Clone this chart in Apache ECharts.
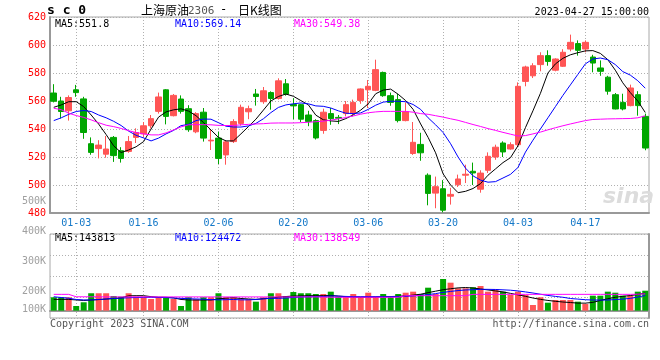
<!DOCTYPE html>
<html><head><meta charset="utf-8">
<script src="https://cdn.jsdelivr.net/npm/echarts@6/dist/echarts.min.js"></script>
<style>html,body{margin:0;padding:0;background:#fff}#c{width:660px;height:360px}</style>
</head><body><div id="c"></div>
<script>
// ---- data ----
const dates = ['12-28','12-29','12-30','01-03','01-04','01-05','01-06','01-09','01-10','01-11','01-12','01-13','01-16','01-17','01-18','01-19','01-20','01-30','01-31','02-01','02-02','02-03','02-06','02-07','02-08','02-09','02-10','02-13','02-14','02-15','02-16','02-17','02-20','02-21','02-22','02-23','02-24','02-27','02-28','03-01','03-02','03-03','03-06','03-07','03-08','03-09','03-10','03-13','03-14','03-15','03-16','03-17','03-20','03-21','03-22','03-23','03-24','03-27','03-28','03-29','03-30','03-31','04-03','04-04','04-06','04-07','04-10','04-11','04-12','04-13','04-14','04-17','04-18','04-19','04-20','04-21','04-24','04-25','04-26','04-27'];
const openP  = [565.7,560,553,568,561.5,529.5,526,522,534,524.5,524,534,536.5,542.3,552.6,568,549.5,561.4,554.5,538,552,531.5,533.5,521.5,531,544,552.3,565,559.5,566,561.8,572.3,557.5,557.4,550,546,539,551,548.3,551,551,560.4,568,567.6,580.4,563.8,561,546,522.5,529,507,494.2,497.3,492,500.2,507,509.8,497,510.5,520,530,525.7,528.8,574,578,586,592.4,582,584.8,597.1,601,597.1,591.4,583.6,577,564.5,559,556.7,564.5,549];
const closeP = [559.8,552.5,562.5,566,537.5,523.3,528.5,525.7,521,519,531,537.5,542.3,547.4,562.9,549,564,552.6,539.5,551,533.5,532,519,530.8,545.3,555.5,554.5,563.2,567.3,561.8,574.4,564.9,556.5,547,545.4,533.6,552,547.4,547.7,557.4,559,568.6,570.5,582.4,563.8,559,546,552.3,530.5,523,494,498.8,482,493.3,504.3,507.7,508.6,508.5,520.5,527,523.6,528.8,570.5,584.3,585.2,592.4,588.3,590,594.8,601.9,596.2,601.9,587.1,581.2,567,554.3,554.3,569.3,556.7,526.4];
const lowP   = [559,547.5,546,563,533,521.6,519,519.5,516.5,516,523,530,534.3,540.4,551,543.3,549,551,538,537,531,525,515,514.5,530,542.4,547,556.7,558,553.8,561,563.8,547,545,542,532.5,536.6,543,543.5,549,549,558,555,567,563,556.6,544.7,545.5,521.5,517.3,485.5,483.4,480.5,486,498.6,501.4,500,494.5,508.6,518,520,525.2,527.6,570.5,576.4,581.2,585.2,581.2,584.3,595.5,592.4,594.8,580.5,578,564.5,554,553.3,556.2,549.5,524.8];
const highP  = [572,563,564,571.5,563,534,532,535,535,527,535,540.5,545,550,566,568.5,565,564,557,552,555,539.5,538,532,547,557.4,556.7,568.6,570,566.9,576.2,575.7,562,558,553,547,554.5,555,550,560,561,569,575,589.5,581,566,565,559,545,537.3,508.3,506,503.5,498,507.4,514.5,516,510.5,523.3,528.8,531.2,530.5,573.3,585.2,587,594.8,596.2,590.5,597,607.4,603.3,603.3,593,589,578,565.7,565.2,571.7,567,551];
const ma5  = [555.5,557.2,559.5,559.5,556,550,543.5,536,528,523.2,525,527.3,531,540,548.5,552.2,553.7,554.4,552.8,549.5,544.6,539.3,534,531.5,531.5,536.5,541.7,547,553.5,560,563.2,565,563.4,560.3,557.3,549.9,546.6,545.8,545.4,547.4,550.1,553.5,558,565.2,567.8,568.5,564.8,560.3,554,543.6,534,523,508,500,494.5,495.5,497.5,501,507,511.5,516,519.5,528,541,553,565.5,580,586.5,590.5,593,594.5,595.8,596,594,589.5,582,573,566,560,551.8];
const ma10 = [546,548,550.5,552.5,553.2,552.5,550,548,545.5,542.5,538.5,535.5,533.6,531.5,533.5,536.5,539,542.4,543.3,546,547.1,547,544.5,542,541.4,541.4,542.2,544,547.3,551.7,555.4,557.2,558,558.6,558,556.5,556.2,555,553,551.3,551,551.5,554,557,559.2,559.8,559.8,559.5,557.5,554,548,543,537.5,529.5,520,512,506.5,503.5,502,502.4,505,507.6,512.5,523.5,532,540,548,556,564,571.5,579,586.5,590,590.7,589.5,586,581,578.5,574.5,569.14];
const ma30 = [554.8,553.8,551.3,549.6,548.3,546.5,544.5,542.7,541.7,540.4,538.8,537.5,536.5,535.8,535.8,537.2,539.3,541.5,543,543.1,543.1,543,542.6,542.5,542.5,543,543.3,543.6,543.8,544.2,544.3,544.3,544.3,544.5,544.8,545.2,545.6,546.3,547.2,548.2,549.3,550.6,551.6,552.2,552.6,552.6,552.6,552.6,552,551,550.5,549.5,548.5,547.3,546.2,544.7,543.2,541.8,540.3,539,537.6,536.3,535,535.3,536.5,537.8,539.4,540.9,542.3,543.6,544.8,546,546.8,547,547.2,547.3,547.4,547.5,548,549.38];
const volume = [110000,110000,110000,38500,69000,143000,143000,143000,120500,115000,143000,115000,115000,96000,110000,110000,96000,38500,110000,93500,110000,110000,143000,110000,110000,93500,93500,74000,110000,143000,143000,120500,153000,143000,143000,137000,137000,156000,115000,115000,137000,115000,147600,115000,137000,115000,137000,147600,156000,137000,188600,137000,260000,229600,183700,183700,192000,202500,156000,175500,156000,128700,156000,128700,46700,110000,65600,87700,87700,87700,74000,55000,123000,123000,156000,147600,123000,123000,156000,164000];
const volMa5  = [93000,93000,93000,88000,84000,87500,91000,95000,100000,105000,122000,123000,123000,115000,110000,110000,105000,92000,88000,87500,87500,87500,97000,103000,106000,100000,96000,93000,98000,103000,111000,116000,120000,121000,123000,123000,123000,125000,120000,115000,110000,110000,110000,112000,114000,116000,118000,121000,128000,135000,148000,160000,172000,180000,187000,190000,186000,178000,170000,162000,154000,142000,130000,118000,104000,93000,84000,77000,71000,67000,62000,62000,68000,84000,98000,110000,118000,124000,133000,143813];
const volMa10 = [114000,108000,102000,92000,88000,88000,92000,96000,100000,103000,106000,108000,109000,110000,109000,108000,104000,101000,98000,96000,94000,91000,89000,90000,92000,89000,89000,92000,97000,101000,101600,104000,109000,112000,114800,114800,116000,121000,119000,117000,115000,115000,115000,115000,115000,115000,116000,118000,121000,126000,132000,140000,150000,158000,165000,170000,172000,175000,175000,174000,171000,168000,162000,154000,145000,135000,125000,117000,110000,100000,95000,90000,87500,87500,87500,91000,95000,101000,112000,124472];
const volMa30 = [134000,134000,134000,114000,114000,114000,114000,113000,113000,113000,113000,113000,113000,113000,113000,113000,113000,113000,113000,113000,113000,113000,113000,113000,113000,113000,113000,113000,113000,113000,113000,113000,113000,113000,113000,113000,112000,110000,110000,110000,110000,110000,110000,110000,110000,110000,110000,123000,123000,123000,123000,123000,123000,123000,123000,123000,134000,134000,134000,134000,134000,134000,134000,134000,134000,134000,134000,134000,134000,134000,134000,134000,134000,134000,134000,134000,134000,134000,135000,138549];
const dateTicks = ['01-03','01-16','02-06','02-20','03-06','03-20','04-03','04-17'];
const priceMin = 480, priceMax = 620, priceStep = 20;
const volTickLabels = [100000, 500000, 100000]; // min, max, step of the printed volume scale

// ---- chart ----
const mono = 'DejaVu Sans Mono';
const UP = '#ff5555', DOWN = '#00a600';
const tickIdx = dateTicks.map(t => dates.indexOf(t));
const isTick = (i) => tickIdx.indexOf(i) >= 0;
const kData = dates.map((d, i) => [openP[i], closeP[i], lowP[i], highP[i]]);
const volData = volume.map((v, i) => ({value: v, itemStyle: {color: closeP[i] >= openP[i] ? UP : DOWN}}));
const dotted = {color: '#b0b0b0', type: [1, 2], width: 1};
const last = a => a[a.length - 1];

const chart = echarts.init(document.getElementById('c'), null, {width: 660, height: 360});
const txt = (x, y, text, color, extra) => Object.assign({
  type: 'text', x: x, y: y,
  style: Object.assign({text: text, fill: color, font: '10px "' + mono + '"', textVerticalAlign: 'middle'}, extra || {})
});
chart.setOption({
  animation: false,
  backgroundColor: '#fff',
  grid: [
    {left: 50, right: 11, top: 17, height: 196, show: true, borderColor: '#a8a8a8', borderWidth: 1},
    {left: 50, right: 11, top: 234, height: 84, show: true, borderColor: '#a8a8a8', borderWidth: 1},
    {left: 50, right: 11, top: 201, height: 120, show: false}
  ],
  xAxis: [
    {type: 'category', gridIndex: 0, data: dates, boundaryGap: true,
     axisLine: {show: true, lineStyle: {color: '#999', width: 2}}, axisTick: {show: false},
     axisLabel: {interval: (i) => isTick(i), color: '#1478c8', fontFamily: mono, fontSize: 10, margin: 5},
     splitLine: {show: true, interval: (i) => isTick(i), alignWithLabel: true, lineStyle: dotted}},
    {type: 'category', gridIndex: 1, data: dates, boundaryGap: true,
     axisLine: {show: true, lineStyle: {color: '#999', width: 2}}, axisTick: {show: false}, axisLabel: {show: false},
     splitLine: {show: true, interval: (i) => isTick(i), alignWithLabel: true, lineStyle: dotted}},
    {type: 'category', gridIndex: 2, data: dates, show: false}
  ],
  yAxis: [
    {type: 'value', gridIndex: 0, min: priceMin, max: priceMax, interval: priceStep,
     axisLine: {show: true, lineStyle: {color: '#999', width: 2}}, axisTick: {show: false},
     axisLabel: {color: '#ff0000', fontFamily: mono, fontSize: 10, margin: 4},
     splitLine: {show: true, lineStyle: dotted}},
    {type: 'value', gridIndex: 1, min: -60000, max: 629000, show: false, splitLine: {show: false}},
    {type: 'value', gridIndex: 1, min: 0, max: 4, interval: 1,
     axisLine: {show: true, lineStyle: {color: '#999', width: 2}}, axisTick: {show: false}, axisLabel: {show: false},
     splitLine: {show: true, lineStyle: dotted}},
    {type: 'value', gridIndex: 2, min: volTickLabels[0], max: volTickLabels[1], interval: volTickLabels[2],
     axisLine: {show: false}, axisTick: {show: false}, splitLine: {show: false},
     axisLabel: {color: '#a0a0a0', fontFamily: mono, fontSize: 10, margin: 4,
       formatter: v => v === volTickLabels[0] ? '{up|' + (v / 1000) + 'K}' : (v / 1000) + 'K',
       rich: {up: {color: '#a0a0a0', fontFamily: mono, fontSize: 10, padding: [0, 0, 24, 0]}}}}
  ],
  series: [
    {type: 'candlestick', xAxisIndex: 0, yAxisIndex: 0, data: kData, barWidth: 6,
     itemStyle: {color: UP, color0: DOWN, borderColor: UP, borderColor0: DOWN, borderWidth: 1}},
    {type: 'line', xAxisIndex: 0, yAxisIndex: 0, data: ma5, symbol: 'none', lineStyle: {color: '#000', width: 1}},
    {type: 'line', xAxisIndex: 0, yAxisIndex: 0, data: ma10, symbol: 'none', lineStyle: {color: '#0000ff', width: 1}},
    {type: 'line', xAxisIndex: 0, yAxisIndex: 0, data: ma30, symbol: 'none', lineStyle: {color: '#ff00ff', width: 1}},
    {type: 'bar', xAxisIndex: 1, yAxisIndex: 1, data: volData, barWidth: 6},
    {type: 'line', xAxisIndex: 1, yAxisIndex: 1, data: volMa5, symbol: 'none', lineStyle: {color: '#000', width: 1}},
    {type: 'line', xAxisIndex: 1, yAxisIndex: 1, data: volMa10, symbol: 'none', lineStyle: {color: '#0000ff', width: 1}},
    {type: 'line', xAxisIndex: 1, yAxisIndex: 1, data: volMa30, symbol: 'none', lineStyle: {color: '#ff00ff', width: 1}}
  ],
  graphic: [
    txt(47, 11, 's c 0', '#000', {font: 'bold 13px "' + mono + '"'}),
    txt(141, 10, '上海原油', '#000', {font: '12px "Noto Sans CJK SC"'}),
    txt(188, 11, '2306', '#555', {font: '11px "' + mono + '"'}),
    txt(220, 10, '-', '#000', {font: '12px "' + mono + '"'}),
    txt(238, 10, '日K线图', '#000', {font: '12px "Noto Sans CJK SC"'}),
    txt(649, 12, '2023-04-' + last(dates).slice(3) + ' 15:00:00', '#000', {textAlign: 'right'}),
    txt(55, 24, 'MA5:' + last(ma5), '#000'),
    txt(175, 24, 'MA10:' + last(ma10), '#0000ff'),
    txt(294, 24, 'MA30:' + last(ma30), '#ff00ff'),
    txt(55, 238, 'MA5:' + last(volMa5), '#000'),
    txt(175, 238, 'MA10:' + last(volMa10), '#0000ff'),
    txt(294, 238, 'MA30:' + last(volMa30), '#ff00ff'),
    txt(50, 324, 'Copyright 2023 SINA.COM', '#555'),
    txt(649, 324, 'http://finance.sina.com.cn', '#555', {textAlign: 'right'}),
    txt(603, 197, 'sina', '#dcdcdc', {font: 'italic bold 22px "DejaVu Sans"'})
  ]
});
</script></body></html>
